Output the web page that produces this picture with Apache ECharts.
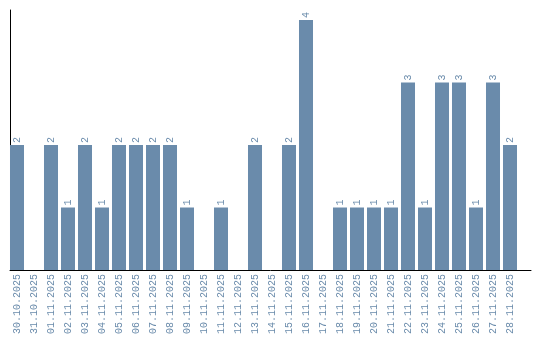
<!DOCTYPE html>
<html><head><meta charset="utf-8">
<script src="https://cdn.jsdelivr.net/npm/echarts@6/dist/echarts.min.js"></script>
<style>html,body{margin:0;padding:0;background:#fff}#c{width:540px;height:340px}</style>
</head><body><div id="c"></div>
<script>
const categories = ["30.10.2025","31.10.2025","01.11.2025","02.11.2025","03.11.2025","04.11.2025","05.11.2025","06.11.2025","07.11.2025","08.11.2025","09.11.2025","10.11.2025","11.11.2025","12.11.2025","13.11.2025","14.11.2025","15.11.2025","16.11.2025","17.11.2025","18.11.2025","19.11.2025","20.11.2025","21.11.2025","22.11.2025","23.11.2025","24.11.2025","25.11.2025","26.11.2025","27.11.2025","28.11.2025"];
const values = [2,0,2,1,2,1,2,2,2,2,1,0,1,0,2,0,2,4,0,1,1,1,1,3,1,3,3,1,3,2];
const color = '#6a8bab';
const font = 'Liberation Mono';
const chart = echarts.init(document.getElementById('c'));
chart.setOption({
  animation:false,
  grid:[
    {left:8.5,width:510,top:10,bottom:70,containLabel:false},
    {left:10,right:9,top:10,bottom:70,containLabel:false}
  ],
  xAxis:[
    {type:'category',gridIndex:0,data:categories,
     axisLine:{show:false},
     axisTick:{show:false},
     axisLabel:{rotate:90,interval:0,color:color,fontFamily:font,fontSize:10,margin:4}},
    {type:'category',gridIndex:1,data:[''],
     axisLine:{show:true,lineStyle:{color:'#000',width:1}},
     axisTick:{show:false},axisLabel:{show:false}}
  ],
  yAxis:[
    {type:'value',gridIndex:0,min:0,max:4.16,splitLine:{show:false},axisLabel:{show:false},axisTick:{show:false},axisLine:{show:false}},
    {type:'value',gridIndex:1,min:0,max:4.16,splitLine:{show:false},axisLabel:{show:false},axisTick:{show:false},
     axisLine:{show:true,lineStyle:{color:'#000',width:1}}}
  ],
  series:[{type:'bar',xAxisIndex:0,yAxisIndex:0,data:values.map(v=>v===0?null:v),barCategoryGap:'17.6%',itemStyle:{color:color},
    label:{show:true,position:'top',rotate:90,align:'left',verticalAlign:'middle',distance:2,color:color,fontFamily:font,fontSize:10}}]
});
</script></body></html>
